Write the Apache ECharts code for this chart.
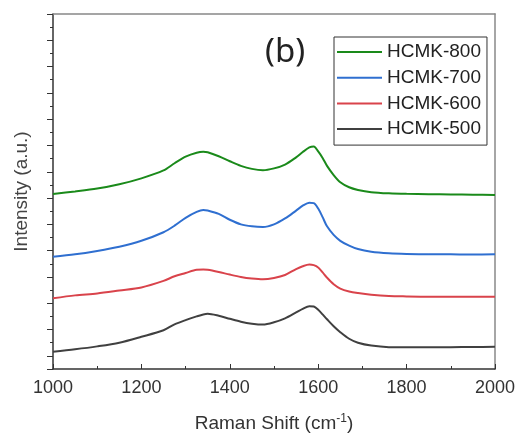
<!DOCTYPE html>
<html>
<head>
<meta charset="utf-8">
<script src="https://cdn.jsdelivr.net/npm/echarts@6/dist/echarts.min.js"></script>
<style>
html,body{margin:0;padding:0;background:#fff;}
#chart{width:518px;height:441px;}
</style>
</head>
<body>
<div id="chart"></div>
<script>
// Raman shift (cm^-1) sample positions
const ramanShift = [1000,1050,1100,1150,1200,1250,1275,1300,1325,1340,1350,1375,1400,1425,1450,1475,1500,1525,1550,1565,1580,1590,1600,1610,1620,1635,1650,1670,1690,1720,1760,1800,1850,1900,1950,2000];
// Intensities (a.u., stacked with offsets as drawn)
const hcmk800 = [13.31,13.5,13.72,14.05,14.5,15.1,15.65,16.15,16.45,16.52,16.48,16.18,15.8,15.45,15.22,15.12,15.26,15.55,16.1,16.5,16.85,16.92,16.55,16.05,15.45,14.75,14.2,13.82,13.62,13.45,13.36,13.32,13.3,13.28,13.26,13.23];
const hcmk700 = [8.54,8.72,8.98,9.3,9.75,10.4,10.9,11.5,11.95,12.1,12.05,11.8,11.35,11.0,10.85,10.8,11.0,11.45,12.05,12.42,12.65,12.62,12.2,11.55,10.85,10.2,9.75,9.38,9.12,8.92,8.8,8.75,8.73,8.72,8.7,8.72];
const hcmk600 = [5.38,5.6,5.75,5.97,6.2,6.7,7.05,7.3,7.55,7.57,7.55,7.38,7.18,7.0,6.88,6.82,6.92,7.15,7.6,7.82,7.95,7.9,7.72,7.35,6.95,6.45,6.12,5.9,5.78,5.65,5.55,5.52,5.5,5.5,5.5,5.5];
const hcmk500 = [1.32,1.5,1.72,2.0,2.45,2.95,3.4,3.72,4.0,4.15,4.2,4.05,3.82,3.6,3.45,3.38,3.55,3.85,4.3,4.58,4.78,4.75,4.5,4.15,3.78,3.25,2.8,2.3,2.0,1.78,1.66,1.65,1.65,1.66,1.67,1.7];
const seriesNames = ['HCMK-800','HCMK-700','HCMK-600','HCMK-500'];
const seriesColors = ['#1a8a1a','#2f6fd0','#d9434b','#404040'];
const xTicks = {min:1000,max:2000,interval:200};

const seriesData = [hcmk800,hcmk700,hcmk600,hcmk500];
const font = 'Liberation Sans, Arial, sans-serif';

const chart = echarts.init(document.getElementById('chart'), null, {renderer:'canvas'});
chart.setOption({
  animation:false,
  backgroundColor:'#fff',
  grid:{left:53,right:22,top:14,bottom:72},
  xAxis:[{
    type:'value', min:xTicks.min, max:xTicks.max, interval:xTicks.interval,
    axisLine:{show:true,onZero:false,lineStyle:{color:'#333',width:1.5}},
    axisTick:{show:true,inside:true,length:5,lineStyle:{color:'#333',width:1}},
    minorTick:{show:true,splitNumber:2,length:3,lineStyle:{color:'#333',width:1}},
    splitLine:{show:false},
    axisLabel:{fontSize:18,color:'#333',fontFamily:font,margin:10,formatter:v=>String(v)},
    name:'Raman Shift (cm{sup|-1})',
    nameLocation:'middle', nameGap:44,
    nameTextStyle:{fontSize:19,color:'#333',fontFamily:font,
      rich:{sup:{fontSize:12,fontFamily:font,color:'#333',verticalAlign:'top',padding:[0,0,9,0]}}}
  },{
    type:'value', position:'top', min:xTicks.min, max:xTicks.max,
    axisLine:{show:true,onZero:false,lineStyle:{color:'#888',width:1.5}},
    axisTick:{show:false}, axisLabel:{show:false}, splitLine:{show:false}
  }],
  yAxis:[{
    type:'value', min:0, max:27,
    axisLine:{show:true,onZero:false,lineStyle:{color:'#333',width:1.5}},
    axisTick:{show:false}, axisLabel:{show:false}, splitLine:{show:false},
    name:'Intensity (a.u.)', nameLocation:'middle', nameGap:22,
    nameTextStyle:{fontSize:19,color:'#444',fontFamily:font}
  },{
    type:'value', inverse:true, min:0, max:27, interval:2, position:'left',
    axisLine:{show:false},
    axisTick:{show:true,inside:false,length:6,lineStyle:{color:'#333',width:1}},
    minorTick:{show:true,splitNumber:2,length:3,lineStyle:{color:'#333',width:1}},
    axisLabel:{show:false}, splitLine:{show:false}
  },{
    type:'value', position:'right', min:0, max:27,
    axisLine:{show:true,onZero:false,lineStyle:{color:'#888',width:1.5}},
    axisTick:{show:false}, axisLabel:{show:false}, splitLine:{show:false}
  }],
  legend:{
    left:334, top:37, orient:'vertical',
    data:seriesNames,
    icon:'rect', itemWidth:45, itemHeight:2, itemGap:5.7,
    padding:[5,6,6,3],
    borderColor:'#333', borderWidth:1, backgroundColor:'#fff',
    textStyle:{fontSize:19,lineHeight:20,color:'#222',fontFamily:font,padding:[0,0,0,0]}
  },
  graphic:[{
    type:'text', left:265, top:36,
    style:{text:'(b)', fontSize:33, fill:'#222', fontFamily:'Noto Sans, sans-serif'}
  }],
  series: seriesNames.map((n,i)=>({
    name:n, type:'line', xAxisIndex:0, yAxisIndex:0,
    data: ramanShift.map((x,j)=>[x, seriesData[i][j]]),
    showSymbol:false, symbol:'none', smooth:0.3,
    lineStyle:{color:seriesColors[i],width:2},
    itemStyle:{color:seriesColors[i]}
  }))
});
</script>
</body>
</html>
